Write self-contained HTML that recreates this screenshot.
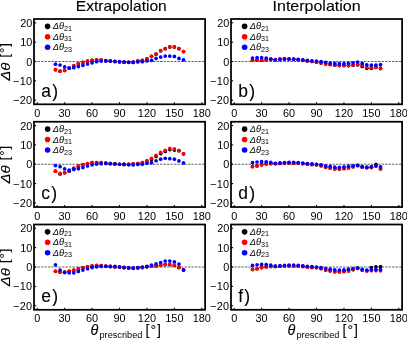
<!DOCTYPE html>
<html><head><meta charset="utf-8"><title>chart</title>
<style>
html,body{margin:0;padding:0;background:#fff;}
body{width:407px;height:340px;overflow:hidden;}
svg{display:block;will-change:transform;}
text{font-family:"Liberation Sans", sans-serif;fill:#000;}
.tk{font-size:10.9px;}
.lg{font-size:9.3px;font-style:italic;}
.sub{font-size:7.2px;font-style:normal;}
.pl{font-size:17.5px;letter-spacing:1.3px;}
.ti{font-size:13px;}
.hv{stroke:#000;stroke-width:0.1px;}
</style></head><body>
<svg width="407" height="340" viewBox="0 0 407 340">
<text class="ti hv" style="font-size:14.2px" x="121.3" y="11.0" text-anchor="middle" textLength="91" lengthAdjust="spacingAndGlyphs">Extrapolation</text>
<text class="ti hv" style="font-size:14.2px" x="316.6" y="11.0" text-anchor="middle" textLength="88" lengthAdjust="spacingAndGlyphs">Interpolation</text>
<g>
<line x1="34.00" y1="61.50" x2="205.10" y2="61.50" stroke="#3a3a3a" stroke-width="0.8" stroke-dasharray="2.4 1.1"/>
<circle cx="55.49" cy="69.72" r="1.85" fill="#000"/><circle cx="60.06" cy="71.27" r="1.85" fill="#000"/><circle cx="64.64" cy="70.50" r="1.85" fill="#000"/><circle cx="69.21" cy="68.18" r="1.85" fill="#000"/><circle cx="73.78" cy="65.85" r="1.85" fill="#000"/><circle cx="78.35" cy="63.92" r="1.85" fill="#000"/><circle cx="82.93" cy="62.37" r="1.85" fill="#000"/><circle cx="87.50" cy="61.21" r="1.85" fill="#000"/><circle cx="92.07" cy="60.44" r="1.85" fill="#000"/><circle cx="96.64" cy="59.86" r="1.85" fill="#000"/><circle cx="101.22" cy="60.05" r="1.85" fill="#000"/><circle cx="105.79" cy="60.63" r="1.85" fill="#000"/><circle cx="110.36" cy="61.02" r="1.85" fill="#000"/><circle cx="114.93" cy="61.60" r="1.85" fill="#000"/><circle cx="119.50" cy="61.98" r="1.85" fill="#000"/><circle cx="124.08" cy="62.18" r="1.85" fill="#000"/><circle cx="128.65" cy="62.37" r="1.85" fill="#000"/><circle cx="133.22" cy="62.18" r="1.85" fill="#000"/><circle cx="137.80" cy="61.02" r="1.85" fill="#000"/><circle cx="142.37" cy="60.44" r="1.85" fill="#000"/><circle cx="146.94" cy="58.89" r="1.85" fill="#000"/><circle cx="151.51" cy="56.37" r="1.85" fill="#000"/><circle cx="156.08" cy="54.15" r="1.85" fill="#000"/><circle cx="160.66" cy="50.76" r="1.85" fill="#000"/><circle cx="165.23" cy="48.63" r="1.85" fill="#000"/><circle cx="169.80" cy="46.89" r="1.85" fill="#000"/><circle cx="174.38" cy="46.89" r="1.85" fill="#000"/><circle cx="178.95" cy="48.63" r="1.85" fill="#000"/><circle cx="183.52" cy="51.59" r="1.85" fill="#000"/>
<circle cx="55.49" cy="69.63" r="1.85" fill="#f00"/><circle cx="60.06" cy="71.17" r="1.85" fill="#f00"/><circle cx="64.64" cy="70.40" r="1.85" fill="#f00"/><circle cx="69.21" cy="68.08" r="1.85" fill="#f00"/><circle cx="73.78" cy="65.76" r="1.85" fill="#f00"/><circle cx="78.35" cy="63.82" r="1.85" fill="#f00"/><circle cx="82.93" cy="62.27" r="1.85" fill="#f00"/><circle cx="87.50" cy="61.11" r="1.85" fill="#f00"/><circle cx="92.07" cy="60.34" r="1.85" fill="#f00"/><circle cx="96.64" cy="59.76" r="1.85" fill="#f00"/><circle cx="101.22" cy="59.95" r="1.85" fill="#f00"/><circle cx="105.79" cy="60.53" r="1.85" fill="#f00"/><circle cx="110.36" cy="60.92" r="1.85" fill="#f00"/><circle cx="114.93" cy="61.50" r="1.85" fill="#f00"/><circle cx="119.50" cy="61.89" r="1.85" fill="#f00"/><circle cx="124.08" cy="62.08" r="1.85" fill="#f00"/><circle cx="128.65" cy="62.27" r="1.85" fill="#f00"/><circle cx="133.22" cy="62.08" r="1.85" fill="#f00"/><circle cx="137.80" cy="60.92" r="1.85" fill="#f00"/><circle cx="142.37" cy="60.34" r="1.85" fill="#f00"/><circle cx="146.94" cy="58.79" r="1.85" fill="#f00"/><circle cx="151.51" cy="56.28" r="1.85" fill="#f00"/><circle cx="156.08" cy="54.05" r="1.85" fill="#f00"/><circle cx="160.66" cy="50.66" r="1.85" fill="#f00"/><circle cx="165.23" cy="48.54" r="1.85" fill="#f00"/><circle cx="169.80" cy="46.79" r="1.85" fill="#f00"/><circle cx="174.38" cy="46.79" r="1.85" fill="#f00"/><circle cx="178.95" cy="48.54" r="1.85" fill="#f00"/><circle cx="183.52" cy="51.50" r="1.85" fill="#f00"/>
<circle cx="55.49" cy="64.21" r="1.85" fill="#00f"/><circle cx="60.06" cy="64.98" r="1.85" fill="#00f"/><circle cx="64.64" cy="66.92" r="1.85" fill="#00f"/><circle cx="69.21" cy="68.08" r="1.85" fill="#00f"/><circle cx="73.78" cy="67.69" r="1.85" fill="#00f"/><circle cx="78.35" cy="66.53" r="1.85" fill="#00f"/><circle cx="82.93" cy="65.37" r="1.85" fill="#00f"/><circle cx="87.50" cy="64.02" r="1.85" fill="#00f"/><circle cx="92.07" cy="62.85" r="1.85" fill="#00f"/><circle cx="96.64" cy="61.69" r="1.85" fill="#00f"/><circle cx="101.22" cy="61.11" r="1.85" fill="#00f"/><circle cx="105.79" cy="60.92" r="1.85" fill="#00f"/><circle cx="110.36" cy="61.11" r="1.85" fill="#00f"/><circle cx="114.93" cy="61.31" r="1.85" fill="#00f"/><circle cx="119.50" cy="61.50" r="1.85" fill="#00f"/><circle cx="124.08" cy="62.08" r="1.85" fill="#00f"/><circle cx="128.65" cy="62.27" r="1.85" fill="#00f"/><circle cx="133.22" cy="62.47" r="1.85" fill="#00f"/><circle cx="137.80" cy="61.89" r="1.85" fill="#00f"/><circle cx="142.37" cy="61.69" r="1.85" fill="#00f"/><circle cx="146.94" cy="60.92" r="1.85" fill="#00f"/><circle cx="151.51" cy="60.34" r="1.85" fill="#00f"/><circle cx="156.08" cy="58.40" r="1.85" fill="#00f"/><circle cx="160.66" cy="57.05" r="1.85" fill="#00f"/><circle cx="165.23" cy="56.08" r="1.85" fill="#00f"/><circle cx="169.80" cy="56.08" r="1.85" fill="#00f"/><circle cx="174.38" cy="56.47" r="1.85" fill="#00f"/><circle cx="178.95" cy="58.40" r="1.85" fill="#00f"/><circle cx="183.52" cy="59.95" r="1.85" fill="#00f"/>
<rect x="34.00" y="19.00" width="171.10" height="85.30" fill="none" stroke="#000" stroke-width="1.75"/>
<line x1="37.20" y1="104.30" x2="37.20" y2="102.20" stroke="#000" stroke-width="1.1"/><text class="tk" x="37.20" y="116.75" text-anchor="middle">0</text>
<line x1="64.64" y1="104.30" x2="64.64" y2="102.20" stroke="#000" stroke-width="1.1"/><text class="tk" x="64.64" y="116.75" text-anchor="middle">30</text>
<line x1="92.07" y1="104.30" x2="92.07" y2="102.20" stroke="#000" stroke-width="1.1"/><text class="tk" x="92.07" y="116.75" text-anchor="middle">60</text>
<line x1="119.50" y1="104.30" x2="119.50" y2="102.20" stroke="#000" stroke-width="1.1"/><text class="tk" x="119.50" y="116.75" text-anchor="middle">90</text>
<line x1="146.94" y1="104.30" x2="146.94" y2="102.20" stroke="#000" stroke-width="1.1"/><text class="tk" x="146.94" y="116.75" text-anchor="middle">120</text>
<line x1="174.38" y1="104.30" x2="174.38" y2="102.20" stroke="#000" stroke-width="1.1"/><text class="tk" x="174.38" y="116.75" text-anchor="middle">150</text>
<line x1="201.81" y1="104.30" x2="201.81" y2="102.20" stroke="#000" stroke-width="1.1"/><text class="tk" x="201.81" y="116.75" text-anchor="middle">180</text>
<line x1="34.00" y1="100.20" x2="36.10" y2="100.20" stroke="#000" stroke-width="1.1"/><text class="tk" x="32.40" y="104.20" text-anchor="end" letter-spacing="0.3">−20</text>
<line x1="34.00" y1="80.85" x2="36.10" y2="80.85" stroke="#000" stroke-width="1.1"/><text class="tk" x="32.40" y="84.85" text-anchor="end" letter-spacing="0.3">−10</text>
<line x1="34.00" y1="61.50" x2="36.10" y2="61.50" stroke="#000" stroke-width="1.1"/><text class="tk" x="32.40" y="65.50" text-anchor="end">0</text>
<line x1="34.00" y1="42.15" x2="36.10" y2="42.15" stroke="#000" stroke-width="1.1"/><text class="tk" x="32.40" y="46.15" text-anchor="end">10</text>
<line x1="34.00" y1="22.80" x2="36.10" y2="22.80" stroke="#000" stroke-width="1.1"/><text class="tk" x="32.40" y="26.80" text-anchor="end">20</text>
<circle cx="47.60" cy="26.35" r="2.8" fill="#000"/><text class="lg" x="52.80" y="29.35">Δθ<tspan class="sub" dy="1.6">21</tspan></text>
<circle cx="47.60" cy="36.80" r="2.8" fill="#f00"/><text class="lg" x="52.80" y="39.80">Δθ<tspan class="sub" dy="1.6">31</tspan></text>
<circle cx="47.60" cy="47.25" r="2.8" fill="#00f"/><text class="lg" x="52.80" y="50.25">Δθ<tspan class="sub" dy="1.6">23</tspan></text>
<text class="pl hv" x="41.20" y="96.50">a)</text>
</g>
<g>
<line x1="231.00" y1="61.50" x2="402.10" y2="61.50" stroke="#3a3a3a" stroke-width="0.8" stroke-dasharray="2.4 1.1"/>
<circle cx="252.49" cy="60.34" r="1.85" fill="#000"/><circle cx="257.06" cy="60.15" r="1.85" fill="#000"/><circle cx="261.63" cy="60.15" r="1.85" fill="#000"/><circle cx="266.21" cy="59.76" r="1.85" fill="#000"/><circle cx="270.78" cy="59.37" r="1.85" fill="#000"/><circle cx="275.35" cy="59.76" r="1.85" fill="#000"/><circle cx="279.93" cy="58.98" r="1.85" fill="#000"/><circle cx="284.50" cy="58.79" r="1.85" fill="#000"/><circle cx="289.07" cy="58.98" r="1.85" fill="#000"/><circle cx="293.64" cy="59.37" r="1.85" fill="#000"/><circle cx="298.21" cy="59.76" r="1.85" fill="#000"/><circle cx="302.79" cy="60.34" r="1.85" fill="#000"/><circle cx="307.36" cy="60.92" r="1.85" fill="#000"/><circle cx="311.93" cy="61.50" r="1.85" fill="#000"/><circle cx="316.50" cy="62.27" r="1.85" fill="#000"/><circle cx="321.08" cy="63.05" r="1.85" fill="#000"/><circle cx="325.65" cy="64.02" r="1.85" fill="#000"/><circle cx="330.22" cy="64.60" r="1.85" fill="#000"/><circle cx="334.79" cy="65.18" r="1.85" fill="#000"/><circle cx="339.37" cy="65.56" r="1.85" fill="#000"/><circle cx="343.94" cy="65.56" r="1.85" fill="#000"/><circle cx="348.51" cy="65.56" r="1.85" fill="#000"/><circle cx="353.08" cy="65.18" r="1.85" fill="#000"/><circle cx="357.66" cy="64.79" r="1.85" fill="#000"/><circle cx="362.23" cy="66.43" r="1.85" fill="#000"/><circle cx="366.80" cy="68.37" r="1.85" fill="#000"/><circle cx="371.38" cy="68.37" r="1.85" fill="#000"/><circle cx="375.95" cy="66.92" r="1.85" fill="#000"/><circle cx="380.52" cy="68.08" r="1.85" fill="#000"/>
<circle cx="252.49" cy="60.15" r="1.85" fill="#f00"/><circle cx="257.06" cy="59.95" r="1.85" fill="#f00"/><circle cx="261.63" cy="59.95" r="1.85" fill="#f00"/><circle cx="266.21" cy="59.56" r="1.85" fill="#f00"/><circle cx="270.78" cy="59.18" r="1.85" fill="#f00"/><circle cx="275.35" cy="59.56" r="1.85" fill="#f00"/><circle cx="279.93" cy="58.79" r="1.85" fill="#f00"/><circle cx="284.50" cy="58.60" r="1.85" fill="#f00"/><circle cx="289.07" cy="58.79" r="1.85" fill="#f00"/><circle cx="293.64" cy="59.18" r="1.85" fill="#f00"/><circle cx="298.21" cy="59.56" r="1.85" fill="#f00"/><circle cx="302.79" cy="60.15" r="1.85" fill="#f00"/><circle cx="307.36" cy="60.73" r="1.85" fill="#f00"/><circle cx="311.93" cy="61.31" r="1.85" fill="#f00"/><circle cx="316.50" cy="62.08" r="1.85" fill="#f00"/><circle cx="321.08" cy="62.85" r="1.85" fill="#f00"/><circle cx="325.65" cy="63.82" r="1.85" fill="#f00"/><circle cx="330.22" cy="64.40" r="1.85" fill="#f00"/><circle cx="334.79" cy="64.98" r="1.85" fill="#f00"/><circle cx="339.37" cy="65.37" r="1.85" fill="#f00"/><circle cx="343.94" cy="65.37" r="1.85" fill="#f00"/><circle cx="348.51" cy="65.37" r="1.85" fill="#f00"/><circle cx="353.08" cy="64.98" r="1.85" fill="#f00"/><circle cx="357.66" cy="64.60" r="1.85" fill="#f00"/><circle cx="362.23" cy="65.37" r="1.85" fill="#f00"/><circle cx="366.80" cy="67.31" r="1.85" fill="#f00"/><circle cx="371.38" cy="67.31" r="1.85" fill="#f00"/><circle cx="375.95" cy="67.50" r="1.85" fill="#f00"/><circle cx="380.52" cy="68.66" r="1.85" fill="#f00"/>
<circle cx="252.49" cy="58.02" r="1.85" fill="#00f"/><circle cx="257.06" cy="57.63" r="1.85" fill="#00f"/><circle cx="261.63" cy="57.63" r="1.85" fill="#00f"/><circle cx="266.21" cy="58.02" r="1.85" fill="#00f"/><circle cx="270.78" cy="58.98" r="1.85" fill="#00f"/><circle cx="275.35" cy="59.76" r="1.85" fill="#00f"/><circle cx="279.93" cy="59.56" r="1.85" fill="#00f"/><circle cx="284.50" cy="59.18" r="1.85" fill="#00f"/><circle cx="289.07" cy="58.98" r="1.85" fill="#00f"/><circle cx="293.64" cy="59.18" r="1.85" fill="#00f"/><circle cx="298.21" cy="59.37" r="1.85" fill="#00f"/><circle cx="302.79" cy="59.76" r="1.85" fill="#00f"/><circle cx="307.36" cy="60.34" r="1.85" fill="#00f"/><circle cx="311.93" cy="60.73" r="1.85" fill="#00f"/><circle cx="316.50" cy="61.11" r="1.85" fill="#00f"/><circle cx="321.08" cy="61.69" r="1.85" fill="#00f"/><circle cx="325.65" cy="62.27" r="1.85" fill="#00f"/><circle cx="330.22" cy="63.05" r="1.85" fill="#00f"/><circle cx="334.79" cy="63.44" r="1.85" fill="#00f"/><circle cx="339.37" cy="63.63" r="1.85" fill="#00f"/><circle cx="343.94" cy="63.63" r="1.85" fill="#00f"/><circle cx="348.51" cy="63.24" r="1.85" fill="#00f"/><circle cx="353.08" cy="62.85" r="1.85" fill="#00f"/><circle cx="357.66" cy="62.08" r="1.85" fill="#00f"/><circle cx="362.23" cy="63.44" r="1.85" fill="#00f"/><circle cx="366.80" cy="64.79" r="1.85" fill="#00f"/><circle cx="371.38" cy="65.18" r="1.85" fill="#00f"/><circle cx="375.95" cy="64.98" r="1.85" fill="#00f"/><circle cx="380.52" cy="64.60" r="1.85" fill="#00f"/>
<rect x="231.00" y="19.00" width="171.10" height="85.30" fill="none" stroke="#000" stroke-width="1.75"/>
<line x1="234.20" y1="104.30" x2="234.20" y2="102.20" stroke="#000" stroke-width="1.1"/><text class="tk" x="234.20" y="116.75" text-anchor="middle">0</text>
<line x1="261.63" y1="104.30" x2="261.63" y2="102.20" stroke="#000" stroke-width="1.1"/><text class="tk" x="261.63" y="116.75" text-anchor="middle">30</text>
<line x1="289.07" y1="104.30" x2="289.07" y2="102.20" stroke="#000" stroke-width="1.1"/><text class="tk" x="289.07" y="116.75" text-anchor="middle">60</text>
<line x1="316.50" y1="104.30" x2="316.50" y2="102.20" stroke="#000" stroke-width="1.1"/><text class="tk" x="316.50" y="116.75" text-anchor="middle">90</text>
<line x1="343.94" y1="104.30" x2="343.94" y2="102.20" stroke="#000" stroke-width="1.1"/><text class="tk" x="343.94" y="116.75" text-anchor="middle">120</text>
<line x1="371.38" y1="104.30" x2="371.38" y2="102.20" stroke="#000" stroke-width="1.1"/><text class="tk" x="371.38" y="116.75" text-anchor="middle">150</text>
<line x1="398.81" y1="104.30" x2="398.81" y2="102.20" stroke="#000" stroke-width="1.1"/><text class="tk" x="398.81" y="116.75" text-anchor="middle">180</text>
<line x1="231.00" y1="100.20" x2="233.10" y2="100.20" stroke="#000" stroke-width="1.1"/><text class="tk" x="229.40" y="104.20" text-anchor="end" letter-spacing="0.3">−20</text>
<line x1="231.00" y1="80.85" x2="233.10" y2="80.85" stroke="#000" stroke-width="1.1"/><text class="tk" x="229.40" y="84.85" text-anchor="end" letter-spacing="0.3">−10</text>
<line x1="231.00" y1="61.50" x2="233.10" y2="61.50" stroke="#000" stroke-width="1.1"/><text class="tk" x="229.40" y="65.50" text-anchor="end">0</text>
<line x1="231.00" y1="42.15" x2="233.10" y2="42.15" stroke="#000" stroke-width="1.1"/><text class="tk" x="229.40" y="46.15" text-anchor="end">10</text>
<line x1="231.00" y1="22.80" x2="233.10" y2="22.80" stroke="#000" stroke-width="1.1"/><text class="tk" x="229.40" y="26.80" text-anchor="end">20</text>
<circle cx="244.60" cy="26.35" r="2.8" fill="#000"/><text class="lg" x="249.80" y="29.35">Δθ<tspan class="sub" dy="1.6">21</tspan></text>
<circle cx="244.60" cy="36.80" r="2.8" fill="#f00"/><text class="lg" x="249.80" y="39.80">Δθ<tspan class="sub" dy="1.6">31</tspan></text>
<circle cx="244.60" cy="47.25" r="2.8" fill="#00f"/><text class="lg" x="249.80" y="50.25">Δθ<tspan class="sub" dy="1.6">23</tspan></text>
<text class="pl hv" x="238.20" y="96.50">b)</text>
</g>
<g>
<line x1="34.00" y1="164.25" x2="205.10" y2="164.25" stroke="#3a3a3a" stroke-width="0.8" stroke-dasharray="2.4 1.1"/>
<circle cx="55.49" cy="171.22" r="1.85" fill="#000"/><circle cx="60.06" cy="173.93" r="1.85" fill="#000"/><circle cx="64.64" cy="172.76" r="1.85" fill="#000"/><circle cx="69.21" cy="171.22" r="1.85" fill="#000"/><circle cx="73.78" cy="168.31" r="1.85" fill="#000"/><circle cx="78.35" cy="166.19" r="1.85" fill="#000"/><circle cx="82.93" cy="164.64" r="1.85" fill="#000"/><circle cx="87.50" cy="163.67" r="1.85" fill="#000"/><circle cx="92.07" cy="162.70" r="1.85" fill="#000"/><circle cx="96.64" cy="162.51" r="1.85" fill="#000"/><circle cx="101.22" cy="162.70" r="1.85" fill="#000"/><circle cx="105.79" cy="163.09" r="1.85" fill="#000"/><circle cx="110.36" cy="163.48" r="1.85" fill="#000"/><circle cx="114.93" cy="163.86" r="1.85" fill="#000"/><circle cx="119.50" cy="164.25" r="1.85" fill="#000"/><circle cx="124.08" cy="164.44" r="1.85" fill="#000"/><circle cx="128.65" cy="164.44" r="1.85" fill="#000"/><circle cx="133.22" cy="163.86" r="1.85" fill="#000"/><circle cx="137.80" cy="163.48" r="1.85" fill="#000"/><circle cx="142.37" cy="162.70" r="1.85" fill="#000"/><circle cx="146.94" cy="161.73" r="1.85" fill="#000"/><circle cx="151.51" cy="159.41" r="1.85" fill="#000"/><circle cx="156.08" cy="156.51" r="1.85" fill="#000"/><circle cx="160.66" cy="153.61" r="1.85" fill="#000"/><circle cx="165.23" cy="151.48" r="1.85" fill="#000"/><circle cx="169.80" cy="149.54" r="1.85" fill="#000"/><circle cx="174.38" cy="150.12" r="1.85" fill="#000"/><circle cx="178.95" cy="150.71" r="1.85" fill="#000"/><circle cx="183.52" cy="153.80" r="1.85" fill="#000"/>
<circle cx="55.49" cy="171.22" r="1.85" fill="#f00"/><circle cx="60.06" cy="173.34" r="1.85" fill="#f00"/><circle cx="64.64" cy="172.76" r="1.85" fill="#f00"/><circle cx="69.21" cy="170.64" r="1.85" fill="#f00"/><circle cx="73.78" cy="168.31" r="1.85" fill="#f00"/><circle cx="78.35" cy="166.19" r="1.85" fill="#f00"/><circle cx="82.93" cy="164.64" r="1.85" fill="#f00"/><circle cx="87.50" cy="163.67" r="1.85" fill="#f00"/><circle cx="92.07" cy="162.70" r="1.85" fill="#f00"/><circle cx="96.64" cy="162.51" r="1.85" fill="#f00"/><circle cx="101.22" cy="162.70" r="1.85" fill="#f00"/><circle cx="105.79" cy="163.09" r="1.85" fill="#f00"/><circle cx="110.36" cy="163.48" r="1.85" fill="#f00"/><circle cx="114.93" cy="163.86" r="1.85" fill="#f00"/><circle cx="119.50" cy="164.25" r="1.85" fill="#f00"/><circle cx="124.08" cy="164.44" r="1.85" fill="#f00"/><circle cx="128.65" cy="164.44" r="1.85" fill="#f00"/><circle cx="133.22" cy="163.86" r="1.85" fill="#f00"/><circle cx="137.80" cy="163.48" r="1.85" fill="#f00"/><circle cx="142.37" cy="162.70" r="1.85" fill="#f00"/><circle cx="146.94" cy="160.57" r="1.85" fill="#f00"/><circle cx="151.51" cy="158.25" r="1.85" fill="#f00"/><circle cx="156.08" cy="155.35" r="1.85" fill="#f00"/><circle cx="160.66" cy="152.45" r="1.85" fill="#f00"/><circle cx="165.23" cy="150.32" r="1.85" fill="#f00"/><circle cx="169.80" cy="148.38" r="1.85" fill="#f00"/><circle cx="174.38" cy="148.96" r="1.85" fill="#f00"/><circle cx="178.95" cy="150.71" r="1.85" fill="#f00"/><circle cx="183.52" cy="153.80" r="1.85" fill="#f00"/>
<circle cx="55.49" cy="165.60" r="1.85" fill="#00f"/><circle cx="60.06" cy="166.67" r="1.85" fill="#00f"/><circle cx="64.64" cy="168.89" r="1.85" fill="#00f"/><circle cx="69.21" cy="170.06" r="1.85" fill="#00f"/><circle cx="73.78" cy="169.47" r="1.85" fill="#00f"/><circle cx="78.35" cy="168.70" r="1.85" fill="#00f"/><circle cx="82.93" cy="167.54" r="1.85" fill="#00f"/><circle cx="87.50" cy="165.99" r="1.85" fill="#00f"/><circle cx="92.07" cy="164.83" r="1.85" fill="#00f"/><circle cx="96.64" cy="164.06" r="1.85" fill="#00f"/><circle cx="101.22" cy="163.67" r="1.85" fill="#00f"/><circle cx="105.79" cy="163.48" r="1.85" fill="#00f"/><circle cx="110.36" cy="163.67" r="1.85" fill="#00f"/><circle cx="114.93" cy="163.86" r="1.85" fill="#00f"/><circle cx="119.50" cy="164.25" r="1.85" fill="#00f"/><circle cx="124.08" cy="164.44" r="1.85" fill="#00f"/><circle cx="128.65" cy="164.64" r="1.85" fill="#00f"/><circle cx="133.22" cy="165.02" r="1.85" fill="#00f"/><circle cx="137.80" cy="164.44" r="1.85" fill="#00f"/><circle cx="142.37" cy="164.25" r="1.85" fill="#00f"/><circle cx="146.94" cy="163.28" r="1.85" fill="#00f"/><circle cx="151.51" cy="162.70" r="1.85" fill="#00f"/><circle cx="156.08" cy="160.77" r="1.85" fill="#00f"/><circle cx="160.66" cy="159.22" r="1.85" fill="#00f"/><circle cx="165.23" cy="158.25" r="1.85" fill="#00f"/><circle cx="169.80" cy="158.64" r="1.85" fill="#00f"/><circle cx="174.38" cy="159.22" r="1.85" fill="#00f"/><circle cx="178.95" cy="160.96" r="1.85" fill="#00f"/><circle cx="183.52" cy="162.90" r="1.85" fill="#00f"/>
<rect x="34.00" y="121.75" width="171.10" height="85.30" fill="none" stroke="#000" stroke-width="1.75"/>
<line x1="37.20" y1="207.05" x2="37.20" y2="204.95" stroke="#000" stroke-width="1.1"/><text class="tk" x="37.20" y="219.50" text-anchor="middle">0</text>
<line x1="64.64" y1="207.05" x2="64.64" y2="204.95" stroke="#000" stroke-width="1.1"/><text class="tk" x="64.64" y="219.50" text-anchor="middle">30</text>
<line x1="92.07" y1="207.05" x2="92.07" y2="204.95" stroke="#000" stroke-width="1.1"/><text class="tk" x="92.07" y="219.50" text-anchor="middle">60</text>
<line x1="119.50" y1="207.05" x2="119.50" y2="204.95" stroke="#000" stroke-width="1.1"/><text class="tk" x="119.50" y="219.50" text-anchor="middle">90</text>
<line x1="146.94" y1="207.05" x2="146.94" y2="204.95" stroke="#000" stroke-width="1.1"/><text class="tk" x="146.94" y="219.50" text-anchor="middle">120</text>
<line x1="174.38" y1="207.05" x2="174.38" y2="204.95" stroke="#000" stroke-width="1.1"/><text class="tk" x="174.38" y="219.50" text-anchor="middle">150</text>
<line x1="201.81" y1="207.05" x2="201.81" y2="204.95" stroke="#000" stroke-width="1.1"/><text class="tk" x="201.81" y="219.50" text-anchor="middle">180</text>
<line x1="34.00" y1="202.95" x2="36.10" y2="202.95" stroke="#000" stroke-width="1.1"/><text class="tk" x="32.40" y="206.95" text-anchor="end" letter-spacing="0.3">−20</text>
<line x1="34.00" y1="183.60" x2="36.10" y2="183.60" stroke="#000" stroke-width="1.1"/><text class="tk" x="32.40" y="187.60" text-anchor="end" letter-spacing="0.3">−10</text>
<line x1="34.00" y1="164.25" x2="36.10" y2="164.25" stroke="#000" stroke-width="1.1"/><text class="tk" x="32.40" y="168.25" text-anchor="end">0</text>
<line x1="34.00" y1="144.90" x2="36.10" y2="144.90" stroke="#000" stroke-width="1.1"/><text class="tk" x="32.40" y="148.90" text-anchor="end">10</text>
<line x1="34.00" y1="125.55" x2="36.10" y2="125.55" stroke="#000" stroke-width="1.1"/><text class="tk" x="32.40" y="129.55" text-anchor="end">20</text>
<circle cx="47.60" cy="129.10" r="2.8" fill="#000"/><text class="lg" x="52.80" y="132.10">Δθ<tspan class="sub" dy="1.6">21</tspan></text>
<circle cx="47.60" cy="139.55" r="2.8" fill="#f00"/><text class="lg" x="52.80" y="142.55">Δθ<tspan class="sub" dy="1.6">31</tspan></text>
<circle cx="47.60" cy="150.00" r="2.8" fill="#00f"/><text class="lg" x="52.80" y="153.00">Δθ<tspan class="sub" dy="1.6">23</tspan></text>
<text class="pl hv" x="41.20" y="199.25">c)</text>
</g>
<g>
<line x1="231.00" y1="164.25" x2="402.10" y2="164.25" stroke="#3a3a3a" stroke-width="0.8" stroke-dasharray="2.4 1.1"/>
<circle cx="252.49" cy="166.48" r="1.85" fill="#000"/><circle cx="257.06" cy="165.80" r="1.85" fill="#000"/><circle cx="261.63" cy="164.64" r="1.85" fill="#000"/><circle cx="266.21" cy="163.86" r="1.85" fill="#000"/><circle cx="270.78" cy="163.48" r="1.85" fill="#000"/><circle cx="275.35" cy="163.48" r="1.85" fill="#000"/><circle cx="279.93" cy="163.28" r="1.85" fill="#000"/><circle cx="284.50" cy="163.09" r="1.85" fill="#000"/><circle cx="289.07" cy="162.90" r="1.85" fill="#000"/><circle cx="293.64" cy="162.90" r="1.85" fill="#000"/><circle cx="298.21" cy="163.09" r="1.85" fill="#000"/><circle cx="302.79" cy="163.48" r="1.85" fill="#000"/><circle cx="307.36" cy="164.06" r="1.85" fill="#000"/><circle cx="311.93" cy="164.44" r="1.85" fill="#000"/><circle cx="316.50" cy="164.64" r="1.85" fill="#000"/><circle cx="321.08" cy="165.60" r="1.85" fill="#000"/><circle cx="325.65" cy="167.15" r="1.85" fill="#000"/><circle cx="330.22" cy="167.93" r="1.85" fill="#000"/><circle cx="334.79" cy="168.70" r="1.85" fill="#000"/><circle cx="339.37" cy="168.89" r="1.85" fill="#000"/><circle cx="343.94" cy="168.51" r="1.85" fill="#000"/><circle cx="348.51" cy="167.73" r="1.85" fill="#000"/><circle cx="353.08" cy="166.67" r="1.85" fill="#000"/><circle cx="357.66" cy="165.41" r="1.85" fill="#000"/><circle cx="362.23" cy="166.96" r="1.85" fill="#000"/><circle cx="366.80" cy="167.54" r="1.85" fill="#000"/><circle cx="371.38" cy="167.35" r="1.85" fill="#000"/><circle cx="375.95" cy="164.44" r="1.85" fill="#000"/><circle cx="380.52" cy="168.70" r="1.85" fill="#000"/>
<circle cx="252.49" cy="166.67" r="1.85" fill="#f00"/><circle cx="257.06" cy="165.99" r="1.85" fill="#f00"/><circle cx="261.63" cy="164.83" r="1.85" fill="#f00"/><circle cx="266.21" cy="164.06" r="1.85" fill="#f00"/><circle cx="270.78" cy="163.67" r="1.85" fill="#f00"/><circle cx="275.35" cy="163.67" r="1.85" fill="#f00"/><circle cx="279.93" cy="163.48" r="1.85" fill="#f00"/><circle cx="284.50" cy="163.28" r="1.85" fill="#f00"/><circle cx="289.07" cy="163.09" r="1.85" fill="#f00"/><circle cx="293.64" cy="163.09" r="1.85" fill="#f00"/><circle cx="298.21" cy="163.28" r="1.85" fill="#f00"/><circle cx="302.79" cy="163.67" r="1.85" fill="#f00"/><circle cx="307.36" cy="164.25" r="1.85" fill="#f00"/><circle cx="311.93" cy="164.64" r="1.85" fill="#f00"/><circle cx="316.50" cy="164.83" r="1.85" fill="#f00"/><circle cx="321.08" cy="165.80" r="1.85" fill="#f00"/><circle cx="325.65" cy="167.35" r="1.85" fill="#f00"/><circle cx="330.22" cy="168.12" r="1.85" fill="#f00"/><circle cx="334.79" cy="168.89" r="1.85" fill="#f00"/><circle cx="339.37" cy="169.09" r="1.85" fill="#f00"/><circle cx="343.94" cy="168.70" r="1.85" fill="#f00"/><circle cx="348.51" cy="167.93" r="1.85" fill="#f00"/><circle cx="353.08" cy="166.86" r="1.85" fill="#f00"/><circle cx="357.66" cy="165.60" r="1.85" fill="#f00"/><circle cx="362.23" cy="167.15" r="1.85" fill="#f00"/><circle cx="366.80" cy="167.73" r="1.85" fill="#f00"/><circle cx="371.38" cy="167.54" r="1.85" fill="#f00"/><circle cx="375.95" cy="166.19" r="1.85" fill="#f00"/><circle cx="380.52" cy="168.89" r="1.85" fill="#f00"/>
<circle cx="252.49" cy="162.70" r="1.85" fill="#00f"/><circle cx="257.06" cy="162.02" r="1.85" fill="#00f"/><circle cx="261.63" cy="161.64" r="1.85" fill="#00f"/><circle cx="266.21" cy="161.83" r="1.85" fill="#00f"/><circle cx="270.78" cy="162.31" r="1.85" fill="#00f"/><circle cx="275.35" cy="163.28" r="1.85" fill="#00f"/><circle cx="279.93" cy="162.90" r="1.85" fill="#00f"/><circle cx="284.50" cy="162.51" r="1.85" fill="#00f"/><circle cx="289.07" cy="162.31" r="1.85" fill="#00f"/><circle cx="293.64" cy="162.31" r="1.85" fill="#00f"/><circle cx="298.21" cy="162.51" r="1.85" fill="#00f"/><circle cx="302.79" cy="163.09" r="1.85" fill="#00f"/><circle cx="307.36" cy="163.48" r="1.85" fill="#00f"/><circle cx="311.93" cy="163.86" r="1.85" fill="#00f"/><circle cx="316.50" cy="164.25" r="1.85" fill="#00f"/><circle cx="321.08" cy="164.83" r="1.85" fill="#00f"/><circle cx="325.65" cy="165.80" r="1.85" fill="#00f"/><circle cx="330.22" cy="166.38" r="1.85" fill="#00f"/><circle cx="334.79" cy="167.15" r="1.85" fill="#00f"/><circle cx="339.37" cy="167.35" r="1.85" fill="#00f"/><circle cx="343.94" cy="166.86" r="1.85" fill="#00f"/><circle cx="348.51" cy="166.19" r="1.85" fill="#00f"/><circle cx="353.08" cy="165.80" r="1.85" fill="#00f"/><circle cx="357.66" cy="165.41" r="1.85" fill="#00f"/><circle cx="362.23" cy="166.67" r="1.85" fill="#00f"/><circle cx="366.80" cy="167.15" r="1.85" fill="#00f"/><circle cx="371.38" cy="166.67" r="1.85" fill="#00f"/><circle cx="375.95" cy="165.80" r="1.85" fill="#00f"/><circle cx="380.52" cy="166.86" r="1.85" fill="#00f"/>
<rect x="231.00" y="121.75" width="171.10" height="85.30" fill="none" stroke="#000" stroke-width="1.75"/>
<line x1="234.20" y1="207.05" x2="234.20" y2="204.95" stroke="#000" stroke-width="1.1"/><text class="tk" x="234.20" y="219.50" text-anchor="middle">0</text>
<line x1="261.63" y1="207.05" x2="261.63" y2="204.95" stroke="#000" stroke-width="1.1"/><text class="tk" x="261.63" y="219.50" text-anchor="middle">30</text>
<line x1="289.07" y1="207.05" x2="289.07" y2="204.95" stroke="#000" stroke-width="1.1"/><text class="tk" x="289.07" y="219.50" text-anchor="middle">60</text>
<line x1="316.50" y1="207.05" x2="316.50" y2="204.95" stroke="#000" stroke-width="1.1"/><text class="tk" x="316.50" y="219.50" text-anchor="middle">90</text>
<line x1="343.94" y1="207.05" x2="343.94" y2="204.95" stroke="#000" stroke-width="1.1"/><text class="tk" x="343.94" y="219.50" text-anchor="middle">120</text>
<line x1="371.38" y1="207.05" x2="371.38" y2="204.95" stroke="#000" stroke-width="1.1"/><text class="tk" x="371.38" y="219.50" text-anchor="middle">150</text>
<line x1="398.81" y1="207.05" x2="398.81" y2="204.95" stroke="#000" stroke-width="1.1"/><text class="tk" x="398.81" y="219.50" text-anchor="middle">180</text>
<line x1="231.00" y1="202.95" x2="233.10" y2="202.95" stroke="#000" stroke-width="1.1"/><text class="tk" x="229.40" y="206.95" text-anchor="end" letter-spacing="0.3">−20</text>
<line x1="231.00" y1="183.60" x2="233.10" y2="183.60" stroke="#000" stroke-width="1.1"/><text class="tk" x="229.40" y="187.60" text-anchor="end" letter-spacing="0.3">−10</text>
<line x1="231.00" y1="164.25" x2="233.10" y2="164.25" stroke="#000" stroke-width="1.1"/><text class="tk" x="229.40" y="168.25" text-anchor="end">0</text>
<line x1="231.00" y1="144.90" x2="233.10" y2="144.90" stroke="#000" stroke-width="1.1"/><text class="tk" x="229.40" y="148.90" text-anchor="end">10</text>
<line x1="231.00" y1="125.55" x2="233.10" y2="125.55" stroke="#000" stroke-width="1.1"/><text class="tk" x="229.40" y="129.55" text-anchor="end">20</text>
<circle cx="244.60" cy="129.10" r="2.8" fill="#000"/><text class="lg" x="249.80" y="132.10">Δθ<tspan class="sub" dy="1.6">21</tspan></text>
<circle cx="244.60" cy="139.55" r="2.8" fill="#f00"/><text class="lg" x="249.80" y="142.55">Δθ<tspan class="sub" dy="1.6">31</tspan></text>
<circle cx="244.60" cy="150.00" r="2.8" fill="#00f"/><text class="lg" x="249.80" y="153.00">Δθ<tspan class="sub" dy="1.6">23</tspan></text>
<text class="pl hv" x="238.20" y="199.25">d)</text>
</g>
<g>
<line x1="34.00" y1="267.00" x2="205.10" y2="267.00" stroke="#3a3a3a" stroke-width="0.8" stroke-dasharray="2.4 1.1"/>
<circle cx="55.49" cy="271.26" r="1.85" fill="#000"/><circle cx="60.06" cy="272.03" r="1.85" fill="#000"/><circle cx="64.64" cy="272.22" r="1.85" fill="#000"/><circle cx="69.21" cy="271.26" r="1.85" fill="#000"/><circle cx="73.78" cy="270.29" r="1.85" fill="#000"/><circle cx="78.35" cy="268.94" r="1.85" fill="#000"/><circle cx="82.93" cy="267.77" r="1.85" fill="#000"/><circle cx="87.50" cy="266.81" r="1.85" fill="#000"/><circle cx="92.07" cy="266.03" r="1.85" fill="#000"/><circle cx="96.64" cy="265.65" r="1.85" fill="#000"/><circle cx="101.22" cy="265.84" r="1.85" fill="#000"/><circle cx="105.79" cy="266.23" r="1.85" fill="#000"/><circle cx="110.36" cy="266.61" r="1.85" fill="#000"/><circle cx="114.93" cy="267.00" r="1.85" fill="#000"/><circle cx="119.50" cy="267.19" r="1.85" fill="#000"/><circle cx="124.08" cy="267.58" r="1.85" fill="#000"/><circle cx="128.65" cy="267.97" r="1.85" fill="#000"/><circle cx="133.22" cy="268.35" r="1.85" fill="#000"/><circle cx="137.80" cy="267.97" r="1.85" fill="#000"/><circle cx="142.37" cy="267.58" r="1.85" fill="#000"/><circle cx="146.94" cy="266.81" r="1.85" fill="#000"/><circle cx="151.51" cy="266.23" r="1.85" fill="#000"/><circle cx="156.08" cy="265.84" r="1.85" fill="#000"/><circle cx="160.66" cy="265.26" r="1.85" fill="#000"/><circle cx="165.23" cy="264.58" r="1.85" fill="#000"/><circle cx="169.80" cy="264.58" r="1.85" fill="#000"/><circle cx="174.38" cy="265.45" r="1.85" fill="#000"/><circle cx="178.95" cy="267.58" r="1.85" fill="#000"/><circle cx="183.52" cy="270.10" r="1.85" fill="#000"/>
<circle cx="55.49" cy="271.06" r="1.85" fill="#f00"/><circle cx="60.06" cy="271.84" r="1.85" fill="#f00"/><circle cx="64.64" cy="272.03" r="1.85" fill="#f00"/><circle cx="69.21" cy="271.06" r="1.85" fill="#f00"/><circle cx="73.78" cy="270.10" r="1.85" fill="#f00"/><circle cx="78.35" cy="268.74" r="1.85" fill="#f00"/><circle cx="82.93" cy="267.58" r="1.85" fill="#f00"/><circle cx="87.50" cy="266.61" r="1.85" fill="#f00"/><circle cx="92.07" cy="265.84" r="1.85" fill="#f00"/><circle cx="96.64" cy="265.45" r="1.85" fill="#f00"/><circle cx="101.22" cy="265.65" r="1.85" fill="#f00"/><circle cx="105.79" cy="266.03" r="1.85" fill="#f00"/><circle cx="110.36" cy="266.42" r="1.85" fill="#f00"/><circle cx="114.93" cy="266.81" r="1.85" fill="#f00"/><circle cx="119.50" cy="267.00" r="1.85" fill="#f00"/><circle cx="124.08" cy="267.39" r="1.85" fill="#f00"/><circle cx="128.65" cy="267.77" r="1.85" fill="#f00"/><circle cx="133.22" cy="268.16" r="1.85" fill="#f00"/><circle cx="137.80" cy="267.77" r="1.85" fill="#f00"/><circle cx="142.37" cy="267.39" r="1.85" fill="#f00"/><circle cx="146.94" cy="266.61" r="1.85" fill="#f00"/><circle cx="151.51" cy="266.03" r="1.85" fill="#f00"/><circle cx="156.08" cy="265.65" r="1.85" fill="#f00"/><circle cx="160.66" cy="265.06" r="1.85" fill="#f00"/><circle cx="165.23" cy="264.39" r="1.85" fill="#f00"/><circle cx="169.80" cy="264.39" r="1.85" fill="#f00"/><circle cx="174.38" cy="265.26" r="1.85" fill="#f00"/><circle cx="178.95" cy="267.39" r="1.85" fill="#f00"/><circle cx="183.52" cy="269.90" r="1.85" fill="#f00"/>
<circle cx="55.49" cy="264.87" r="1.85" fill="#00f"/><circle cx="60.06" cy="270.10" r="1.85" fill="#00f"/><circle cx="64.64" cy="272.61" r="1.85" fill="#00f"/><circle cx="69.21" cy="272.81" r="1.85" fill="#00f"/><circle cx="73.78" cy="272.81" r="1.85" fill="#00f"/><circle cx="78.35" cy="271.45" r="1.85" fill="#00f"/><circle cx="82.93" cy="270.10" r="1.85" fill="#00f"/><circle cx="87.50" cy="268.74" r="1.85" fill="#00f"/><circle cx="92.07" cy="267.58" r="1.85" fill="#00f"/><circle cx="96.64" cy="266.81" r="1.85" fill="#00f"/><circle cx="101.22" cy="266.42" r="1.85" fill="#00f"/><circle cx="105.79" cy="266.23" r="1.85" fill="#00f"/><circle cx="110.36" cy="266.42" r="1.85" fill="#00f"/><circle cx="114.93" cy="266.42" r="1.85" fill="#00f"/><circle cx="119.50" cy="266.81" r="1.85" fill="#00f"/><circle cx="124.08" cy="267.58" r="1.85" fill="#00f"/><circle cx="128.65" cy="267.97" r="1.85" fill="#00f"/><circle cx="133.22" cy="267.97" r="1.85" fill="#00f"/><circle cx="137.80" cy="267.58" r="1.85" fill="#00f"/><circle cx="142.37" cy="267.00" r="1.85" fill="#00f"/><circle cx="146.94" cy="266.42" r="1.85" fill="#00f"/><circle cx="151.51" cy="265.06" r="1.85" fill="#00f"/><circle cx="156.08" cy="263.90" r="1.85" fill="#00f"/><circle cx="160.66" cy="262.55" r="1.85" fill="#00f"/><circle cx="165.23" cy="261.00" r="1.85" fill="#00f"/><circle cx="169.80" cy="261.00" r="1.85" fill="#00f"/><circle cx="174.38" cy="261.97" r="1.85" fill="#00f"/><circle cx="178.95" cy="264.10" r="1.85" fill="#00f"/><circle cx="183.52" cy="269.90" r="1.85" fill="#00f"/>
<rect x="34.00" y="224.50" width="171.10" height="85.30" fill="none" stroke="#000" stroke-width="1.75"/>
<line x1="37.20" y1="309.80" x2="37.20" y2="307.70" stroke="#000" stroke-width="1.1"/><text class="tk" x="37.20" y="322.25" text-anchor="middle">0</text>
<line x1="64.64" y1="309.80" x2="64.64" y2="307.70" stroke="#000" stroke-width="1.1"/><text class="tk" x="64.64" y="322.25" text-anchor="middle">30</text>
<line x1="92.07" y1="309.80" x2="92.07" y2="307.70" stroke="#000" stroke-width="1.1"/><text class="tk" x="92.07" y="322.25" text-anchor="middle">60</text>
<line x1="119.50" y1="309.80" x2="119.50" y2="307.70" stroke="#000" stroke-width="1.1"/><text class="tk" x="119.50" y="322.25" text-anchor="middle">90</text>
<line x1="146.94" y1="309.80" x2="146.94" y2="307.70" stroke="#000" stroke-width="1.1"/><text class="tk" x="146.94" y="322.25" text-anchor="middle">120</text>
<line x1="174.38" y1="309.80" x2="174.38" y2="307.70" stroke="#000" stroke-width="1.1"/><text class="tk" x="174.38" y="322.25" text-anchor="middle">150</text>
<line x1="201.81" y1="309.80" x2="201.81" y2="307.70" stroke="#000" stroke-width="1.1"/><text class="tk" x="201.81" y="322.25" text-anchor="middle">180</text>
<line x1="34.00" y1="305.70" x2="36.10" y2="305.70" stroke="#000" stroke-width="1.1"/><text class="tk" x="32.40" y="309.70" text-anchor="end" letter-spacing="0.3">−20</text>
<line x1="34.00" y1="286.35" x2="36.10" y2="286.35" stroke="#000" stroke-width="1.1"/><text class="tk" x="32.40" y="290.35" text-anchor="end" letter-spacing="0.3">−10</text>
<line x1="34.00" y1="267.00" x2="36.10" y2="267.00" stroke="#000" stroke-width="1.1"/><text class="tk" x="32.40" y="271.00" text-anchor="end">0</text>
<line x1="34.00" y1="247.65" x2="36.10" y2="247.65" stroke="#000" stroke-width="1.1"/><text class="tk" x="32.40" y="251.65" text-anchor="end">10</text>
<line x1="34.00" y1="228.30" x2="36.10" y2="228.30" stroke="#000" stroke-width="1.1"/><text class="tk" x="32.40" y="232.30" text-anchor="end">20</text>
<circle cx="47.60" cy="231.85" r="2.8" fill="#000"/><text class="lg" x="52.80" y="234.85">Δθ<tspan class="sub" dy="1.6">21</tspan></text>
<circle cx="47.60" cy="242.30" r="2.8" fill="#f00"/><text class="lg" x="52.80" y="245.30">Δθ<tspan class="sub" dy="1.6">31</tspan></text>
<circle cx="47.60" cy="252.75" r="2.8" fill="#00f"/><text class="lg" x="52.80" y="255.75">Δθ<tspan class="sub" dy="1.6">23</tspan></text>
<text class="pl hv" x="41.20" y="302.00">e)</text>
</g>
<g>
<line x1="231.00" y1="267.00" x2="402.10" y2="267.00" stroke="#3a3a3a" stroke-width="0.8" stroke-dasharray="2.4 1.1"/>
<circle cx="252.49" cy="269.42" r="1.85" fill="#000"/><circle cx="257.06" cy="268.74" r="1.85" fill="#000"/><circle cx="261.63" cy="267.58" r="1.85" fill="#000"/><circle cx="266.21" cy="266.81" r="1.85" fill="#000"/><circle cx="270.78" cy="266.42" r="1.85" fill="#000"/><circle cx="275.35" cy="266.42" r="1.85" fill="#000"/><circle cx="279.93" cy="266.23" r="1.85" fill="#000"/><circle cx="284.50" cy="266.03" r="1.85" fill="#000"/><circle cx="289.07" cy="265.84" r="1.85" fill="#000"/><circle cx="293.64" cy="265.84" r="1.85" fill="#000"/><circle cx="298.21" cy="266.03" r="1.85" fill="#000"/><circle cx="302.79" cy="266.42" r="1.85" fill="#000"/><circle cx="307.36" cy="267.00" r="1.85" fill="#000"/><circle cx="311.93" cy="267.39" r="1.85" fill="#000"/><circle cx="316.50" cy="267.58" r="1.85" fill="#000"/><circle cx="321.08" cy="268.55" r="1.85" fill="#000"/><circle cx="325.65" cy="270.10" r="1.85" fill="#000"/><circle cx="330.22" cy="270.87" r="1.85" fill="#000"/><circle cx="334.79" cy="271.64" r="1.85" fill="#000"/><circle cx="339.37" cy="271.84" r="1.85" fill="#000"/><circle cx="343.94" cy="271.45" r="1.85" fill="#000"/><circle cx="348.51" cy="270.87" r="1.85" fill="#000"/><circle cx="353.08" cy="269.61" r="1.85" fill="#000"/><circle cx="357.66" cy="268.35" r="1.85" fill="#000"/><circle cx="362.23" cy="270.10" r="1.85" fill="#000"/><circle cx="366.80" cy="270.87" r="1.85" fill="#000"/><circle cx="371.38" cy="267.58" r="1.85" fill="#000"/><circle cx="375.95" cy="266.81" r="1.85" fill="#000"/><circle cx="380.52" cy="266.61" r="1.85" fill="#000"/>
<circle cx="252.49" cy="269.42" r="1.85" fill="#f00"/><circle cx="257.06" cy="268.74" r="1.85" fill="#f00"/><circle cx="261.63" cy="267.58" r="1.85" fill="#f00"/><circle cx="266.21" cy="266.81" r="1.85" fill="#f00"/><circle cx="270.78" cy="266.42" r="1.85" fill="#f00"/><circle cx="275.35" cy="266.42" r="1.85" fill="#f00"/><circle cx="279.93" cy="266.23" r="1.85" fill="#f00"/><circle cx="284.50" cy="266.03" r="1.85" fill="#f00"/><circle cx="289.07" cy="265.84" r="1.85" fill="#f00"/><circle cx="293.64" cy="265.84" r="1.85" fill="#f00"/><circle cx="298.21" cy="266.03" r="1.85" fill="#f00"/><circle cx="302.79" cy="266.42" r="1.85" fill="#f00"/><circle cx="307.36" cy="267.00" r="1.85" fill="#f00"/><circle cx="311.93" cy="267.39" r="1.85" fill="#f00"/><circle cx="316.50" cy="267.58" r="1.85" fill="#f00"/><circle cx="321.08" cy="268.55" r="1.85" fill="#f00"/><circle cx="325.65" cy="270.10" r="1.85" fill="#f00"/><circle cx="330.22" cy="270.87" r="1.85" fill="#f00"/><circle cx="334.79" cy="271.64" r="1.85" fill="#f00"/><circle cx="339.37" cy="271.84" r="1.85" fill="#f00"/><circle cx="343.94" cy="271.45" r="1.85" fill="#f00"/><circle cx="348.51" cy="270.87" r="1.85" fill="#f00"/><circle cx="353.08" cy="269.61" r="1.85" fill="#f00"/><circle cx="357.66" cy="268.35" r="1.85" fill="#f00"/><circle cx="362.23" cy="270.10" r="1.85" fill="#f00"/><circle cx="366.80" cy="270.87" r="1.85" fill="#f00"/><circle cx="371.38" cy="270.68" r="1.85" fill="#f00"/><circle cx="375.95" cy="270.68" r="1.85" fill="#f00"/><circle cx="380.52" cy="270.87" r="1.85" fill="#f00"/>
<circle cx="252.49" cy="265.45" r="1.85" fill="#00f"/><circle cx="257.06" cy="264.77" r="1.85" fill="#00f"/><circle cx="261.63" cy="264.39" r="1.85" fill="#00f"/><circle cx="266.21" cy="264.58" r="1.85" fill="#00f"/><circle cx="270.78" cy="265.06" r="1.85" fill="#00f"/><circle cx="275.35" cy="266.03" r="1.85" fill="#00f"/><circle cx="279.93" cy="265.65" r="1.85" fill="#00f"/><circle cx="284.50" cy="265.26" r="1.85" fill="#00f"/><circle cx="289.07" cy="265.06" r="1.85" fill="#00f"/><circle cx="293.64" cy="265.06" r="1.85" fill="#00f"/><circle cx="298.21" cy="265.26" r="1.85" fill="#00f"/><circle cx="302.79" cy="265.84" r="1.85" fill="#00f"/><circle cx="307.36" cy="266.23" r="1.85" fill="#00f"/><circle cx="311.93" cy="266.61" r="1.85" fill="#00f"/><circle cx="316.50" cy="267.00" r="1.85" fill="#00f"/><circle cx="321.08" cy="267.58" r="1.85" fill="#00f"/><circle cx="325.65" cy="268.55" r="1.85" fill="#00f"/><circle cx="330.22" cy="269.13" r="1.85" fill="#00f"/><circle cx="334.79" cy="269.90" r="1.85" fill="#00f"/><circle cx="339.37" cy="270.10" r="1.85" fill="#00f"/><circle cx="343.94" cy="269.90" r="1.85" fill="#00f"/><circle cx="348.51" cy="269.13" r="1.85" fill="#00f"/><circle cx="353.08" cy="268.55" r="1.85" fill="#00f"/><circle cx="357.66" cy="267.97" r="1.85" fill="#00f"/><circle cx="362.23" cy="269.42" r="1.85" fill="#00f"/><circle cx="366.80" cy="270.10" r="1.85" fill="#00f"/><circle cx="371.38" cy="269.61" r="1.85" fill="#00f"/><circle cx="375.95" cy="269.61" r="1.85" fill="#00f"/><circle cx="380.52" cy="269.61" r="1.85" fill="#00f"/>
<rect x="231.00" y="224.50" width="171.10" height="85.30" fill="none" stroke="#000" stroke-width="1.75"/>
<line x1="234.20" y1="309.80" x2="234.20" y2="307.70" stroke="#000" stroke-width="1.1"/><text class="tk" x="234.20" y="322.25" text-anchor="middle">0</text>
<line x1="261.63" y1="309.80" x2="261.63" y2="307.70" stroke="#000" stroke-width="1.1"/><text class="tk" x="261.63" y="322.25" text-anchor="middle">30</text>
<line x1="289.07" y1="309.80" x2="289.07" y2="307.70" stroke="#000" stroke-width="1.1"/><text class="tk" x="289.07" y="322.25" text-anchor="middle">60</text>
<line x1="316.50" y1="309.80" x2="316.50" y2="307.70" stroke="#000" stroke-width="1.1"/><text class="tk" x="316.50" y="322.25" text-anchor="middle">90</text>
<line x1="343.94" y1="309.80" x2="343.94" y2="307.70" stroke="#000" stroke-width="1.1"/><text class="tk" x="343.94" y="322.25" text-anchor="middle">120</text>
<line x1="371.38" y1="309.80" x2="371.38" y2="307.70" stroke="#000" stroke-width="1.1"/><text class="tk" x="371.38" y="322.25" text-anchor="middle">150</text>
<line x1="398.81" y1="309.80" x2="398.81" y2="307.70" stroke="#000" stroke-width="1.1"/><text class="tk" x="398.81" y="322.25" text-anchor="middle">180</text>
<line x1="231.00" y1="305.70" x2="233.10" y2="305.70" stroke="#000" stroke-width="1.1"/><text class="tk" x="229.40" y="309.70" text-anchor="end" letter-spacing="0.3">−20</text>
<line x1="231.00" y1="286.35" x2="233.10" y2="286.35" stroke="#000" stroke-width="1.1"/><text class="tk" x="229.40" y="290.35" text-anchor="end" letter-spacing="0.3">−10</text>
<line x1="231.00" y1="267.00" x2="233.10" y2="267.00" stroke="#000" stroke-width="1.1"/><text class="tk" x="229.40" y="271.00" text-anchor="end">0</text>
<line x1="231.00" y1="247.65" x2="233.10" y2="247.65" stroke="#000" stroke-width="1.1"/><text class="tk" x="229.40" y="251.65" text-anchor="end">10</text>
<line x1="231.00" y1="228.30" x2="233.10" y2="228.30" stroke="#000" stroke-width="1.1"/><text class="tk" x="229.40" y="232.30" text-anchor="end">20</text>
<circle cx="244.60" cy="231.85" r="2.8" fill="#000"/><text class="lg" x="249.80" y="234.85">Δθ<tspan class="sub" dy="1.6">21</tspan></text>
<circle cx="244.60" cy="242.30" r="2.8" fill="#f00"/><text class="lg" x="249.80" y="245.30">Δθ<tspan class="sub" dy="1.6">31</tspan></text>
<circle cx="244.60" cy="252.75" r="2.8" fill="#00f"/><text class="lg" x="249.80" y="255.75">Δθ<tspan class="sub" dy="1.6">23</tspan></text>
<text class="pl hv" x="238.20" y="302.00">f)</text>
</g>
<text class="ti hv" transform="translate(10.3,80.80) rotate(-90)"><tspan font-style="italic" textLength="18.2" lengthAdjust="spacingAndGlyphs">Δθ</tspan><tspan dx="5.2" dy="-1.2" letter-spacing="0.9">[°]</tspan></text>
<text class="ti hv" transform="translate(10.3,183.55) rotate(-90)"><tspan font-style="italic" textLength="18.2" lengthAdjust="spacingAndGlyphs">Δθ</tspan><tspan dx="5.2" dy="-1.2" letter-spacing="0.9">[°]</tspan></text>
<text class="ti hv" transform="translate(10.3,286.30) rotate(-90)"><tspan font-style="italic" textLength="18.2" lengthAdjust="spacingAndGlyphs">Δθ</tspan><tspan dx="5.2" dy="-1.2" letter-spacing="0.9">[°]</tspan></text>
<text class="hv" x="90.40" y="335" font-size="14.4px" font-style="italic">θ</text><text x="99.50" y="337.8" font-size="9.2px">prescribed</text><text class="hv" x="145.60" y="334.8" font-size="14px" letter-spacing="1.0">[°]</text>
<text class="hv" x="287.40" y="335" font-size="14.4px" font-style="italic">θ</text><text x="296.50" y="337.8" font-size="9.2px">prescribed</text><text class="hv" x="342.60" y="334.8" font-size="14px" letter-spacing="1.0">[°]</text>
</svg>
</body></html>
